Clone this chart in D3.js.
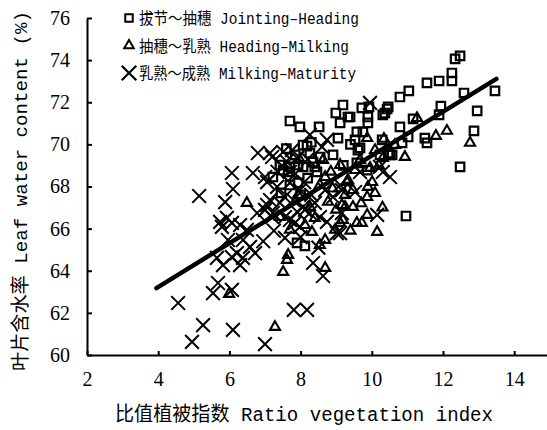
<!DOCTYPE html>
<html>
<head>
<meta charset="utf-8">
<script src="https://cdn.jsdelivr.net/npm/d3@7"></script>
<style>
  body { margin: 0; background: #fff; }
  .tick text { font-family: "Liberation Serif", serif; font-size: 20px; }
  .lab { font-family: "Liberation Mono", "Noto Sans CJK SC", monospace; fill: #000; }
</style>
</head>
<body>
<div id="chart"></div>
<script>
// 拔节～抽穗 Jointing-Heading  [RVI, leaf water %]
const jointing = [
  [12.34, 74.06], [12.48, 74.20], [12.25, 73.39], [12.25, 73.01], [11.89, 73.01],
  [11.55, 72.92], [11.04, 72.54], [10.79, 72.25], [12.59, 72.44], [13.46, 72.54],
  [11.94, 71.82], [11.89, 71.40], [12.96, 71.59], [11.16, 71.21], [10.79, 70.83],
  [12.87, 70.64], [11.49, 70.30], [11.55, 70.07], [11.02, 70.35], [10.85, 70.07],
  [10.57, 69.50], [12.48, 68.93], [10.96, 66.60], [10.43, 71.68], [10.31, 71.40],
  [7.70, 71.11], [7.98, 70.83], [8.52, 70.83], [9.19, 71.87], [8.99, 71.49],
  [9.33, 71.30], [9.11, 71.02], [9.72, 71.73], [9.92, 71.78], [9.89, 71.30],
  [9.89, 71.02], [9.58, 70.59], [9.75, 70.59], [9.53, 70.21], [9.67, 69.83],
  [10.29, 70.21], [10.51, 69.50], [10.23, 69.50], [8.91, 69.50], [9.58, 69.12],
  [9.87, 68.78], [8.18, 69.92], [7.70, 68.93], [7.42, 69.02], [7.65, 68.69],
  [8.07, 69.97], [8.26, 69.59], [7.93, 69.02], [8.40, 68.93], [7.70, 68.07],
  [7.93, 68.17], [8.35, 69.16], [8.46, 68.69], [8.07, 68.93], [7.51, 68.78],
  [7.22, 68.45], [9.61, 69.73], [10.37, 71.49], [10.46, 71.78], [9.39, 71.30],
  [7.90, 65.32], [8.12, 65.18], [10.46, 69.59], [8.20, 68.40], [7.85, 69.50],
  [8.55, 69.40], [9.05, 70.30], [9.40, 70.00], [8.00, 67.60], [7.60, 69.80],
  [8.30, 70.10], [9.20, 69.00], [7.45, 67.70]
];

// 抽穗～乳熟 Heading-Milking
const heading = [
  [11.27, 71.25], [11.80, 70.40], [12.11, 70.64], [12.76, 70.07], [10.93, 69.40],
  [10.34, 70.26], [10.31, 69.35], [9.87, 70.30], [9.95, 68.88], [9.33, 68.31],
  [9.89, 67.98], [10.09, 67.69], [9.87, 67.50], [9.25, 67.03], [9.47, 67.03],
  [9.87, 66.65], [9.58, 66.27], [9.72, 66.27], [10.15, 65.84], [9.11, 66.27],
  [8.63, 69.26], [9.11, 69.02], [9.30, 68.21], [9.25, 67.60], [9.47, 67.83],
  [9.16, 67.12], [10.01, 68.21], [9.19, 66.41], [8.69, 65.46], [8.54, 65.22],
  [7.65, 64.75], [7.62, 64.51], [7.51, 63.94], [8.69, 64.13], [7.28, 61.33],
  [6.49, 67.22], [5.99, 62.90], [7.42, 66.55], [8.26, 67.03], [8.77, 67.27],
  [8.54, 68.07], [8.69, 68.45], [7.93, 67.60], [8.12, 66.17], [7.70, 65.94],
  [8.32, 65.84], [8.97, 65.94], [9.53, 68.78], [9.67, 69.26], [7.98, 69.26],
  [10.65, 69.97], [10.09, 69.73], [8.85, 68.70], [9.70, 67.20], [10.30, 67.00],
  [8.40, 66.50], [9.00, 66.90], [9.40, 65.90], [8.90, 67.90], [10.20, 69.00]
];

// 乳熟～成熟 Milking-Maturity
const milking = [
  [6.80, 69.59], [7.20, 69.40], [6.07, 68.64], [6.66, 68.64], [7.06, 68.21],
  [5.15, 67.55], [6.10, 67.88], [5.88, 67.26], [7.06, 67.12], [5.74, 66.32],
  [5.93, 66.51], [6.07, 66.27], [6.30, 66.17], [6.49, 65.94], [6.78, 66.74],
  [7.00, 66.89], [7.20, 66.55], [5.79, 66.08], [5.96, 65.46], [6.38, 65.46],
  [6.58, 65.13], [6.72, 64.84], [5.65, 64.61], [5.82, 64.27], [6.07, 64.65],
  [6.30, 64.27], [6.38, 64.61], [6.21, 64.84], [5.68, 63.42], [5.54, 62.94],
  [6.07, 63.09], [4.56, 62.47], [5.26, 61.42], [6.10, 61.19], [4.95, 60.62],
  [7.00, 60.52], [7.81, 62.14], [8.18, 62.14], [8.35, 64.37], [8.63, 63.75],
  [9.02, 65.79], [7.56, 65.56], [9.95, 71.97], [8.26, 70.45], [8.74, 70.21],
  [7.14, 69.59], [7.51, 69.64], [7.76, 69.73], [7.90, 69.35], [7.51, 68.93],
  [7.70, 68.69], [7.34, 67.98], [7.70, 68.17], [7.98, 67.83], [7.14, 67.36],
  [7.42, 67.22], [7.22, 66.74], [7.79, 67.36], [8.07, 67.03], [8.26, 66.74],
  [7.70, 66.41], [7.98, 66.08], [8.54, 66.55], [8.74, 66.32], [8.91, 67.50],
  [9.16, 67.83], [9.16, 66.74], [10.23, 68.93], [10.51, 68.45], [10.15, 66.65],
  [7.00, 68.45], [7.56, 66.55], [7.84, 66.27], [8.60, 69.88], [8.69, 67.83],
  [8.40, 67.22], [8.12, 66.89], [9.11, 68.07], [9.53, 67.74], [10.31, 68.69],
  [9.11, 65.79], [9.67, 68.69], [7.60, 69.20], [7.85, 68.60], [8.10, 68.20],
  [7.35, 68.70], [7.90, 66.80], [7.55, 67.50], [8.30, 67.60], [7.25, 65.90],
  [8.00, 65.60], [8.50, 65.10], [6.95, 65.40], [8.20, 69.30]
];

// fitted line: y = a + b*x over the drawn x range
const fitCoef = [59.07, 1.04];
const fitRange = [3.95, 13.5];

const xTicks = [2, 4, 6, 8, 10, 12, 14];
const yTicks = [60, 62, 64, 66, 68, 70, 72, 74, 76];

const legendItems = [
  { label: '拔节～抽穗 Jointing–Heading', len: 220 },
  { label: '抽穗～乳熟 Heading–Milking', len: 210 },
  { label: '乳熟～成熟 Milking–Maturity', len: 217 }
];

const svg = d3.select('#chart')
  .append('svg')
  .attr('width', 547)
  .attr('height', 430);

const x = d3.scaleLinear().domain([2, 15]).range([87, 549.8]);
const y = d3.scaleLinear().domain([60, 76]).range([355, 18]);

// Axes
const xAxis = svg.append('g')
  .attr('transform', `translate(0,${y(60)})`)
  .call(d3.axisBottom(x).tickValues(xTicks).tickSize(-4).tickSizeOuter(0).tickPadding(17));

const yAxis = svg.append('g')
  .attr('transform', `translate(${x(2)},0)`)
  .call(d3.axisLeft(y).tickValues(yTicks).tickSize(-5).tickSizeOuter(0).tickPadding(17));

[xAxis, yAxis].forEach(a => {
  a.select('.domain').attr('stroke-width', 2);
  a.selectAll('.tick line').attr('stroke-width', 2);
});

// Symbols
const sq = d3.symbol().type(d3.symbolSquare).size(72)();
const tri = d3.symbol().type(d3.symbolTriangle).size(44)();
const cross = d3.symbol().type(d3.symbolTimes).size(125)();

const plot = svg.append('g');

function drawSeries(data, path, sw) {
  plot.append('g').selectAll('path')
    .data(data)
    .enter().append('path')
      .attr('transform', d => `translate(${x(d[0])},${y(d[1])})`)
      .attr('d', path)
      .attr('fill', 'none')
      .attr('stroke', '#000')
      .attr('stroke-width', sw);
}

drawSeries(jointing, sq, 2.2);
drawSeries(heading, tri, 2.1);
drawSeries(milking, cross, 2);

// Regression line
const line = d3.line()
  .x(d => x(d))
  .y(d => y(fitCoef[0] + fitCoef[1] * d));

svg.append('path')
  .datum(fitRange)
  .attr('d', line)
  .attr('fill', 'none')
  .attr('stroke', '#000')
  .attr('stroke-width', 4.5)
  .attr('stroke-linecap', 'round');

// Legend
const legend = svg.append('g');
const legendSyms = [
  d3.symbol().type(d3.symbolSquare).size(56)(),
  d3.symbol().type(d3.symbolTriangle).size(40)(),
  d3.symbol().type(d3.symbolTimes).size(140)()
];
legendItems.forEach((item, i) => {
  const cy = 18 + i * 27.5;
  legend.append('path')
    .attr('transform', `translate(${129},${cy})`)
    .attr('d', legendSyms[i])
    .attr('fill', 'none')
    .attr('stroke', '#000')
    .attr('stroke-width', i === 2 ? 2.2 : 2);
  legend.append('text')
    .attr('class', 'lab')
    .attr('x', 139)
    .attr('y', cy + 6)
    .attr('font-size', 16)
    .attr('textLength', item.len)
    .attr('lengthAdjust', 'spacingAndGlyphs')
    .text(item.label);
});

// Axis titles
svg.append('text')
  .attr('class', 'lab')
  .attr('x', 304)
  .attr('y', 421)
  .attr('text-anchor', 'middle')
  .attr('font-size', 20)
  .attr('textLength', 378)
  .attr('lengthAdjust', 'spacingAndGlyphs')
  .text('比值植被指数 Ratio vegetation index');

svg.append('text')
  .attr('class', 'lab')
  .attr('transform', 'translate(27,191) rotate(-90)')
  .attr('text-anchor', 'middle')
  .attr('font-size', 19)
  .attr('textLength', 360)
  .attr('lengthAdjust', 'spacingAndGlyphs')
  .text('叶片含水率 Leaf water content (%)');
</script>
</body>
</html>
